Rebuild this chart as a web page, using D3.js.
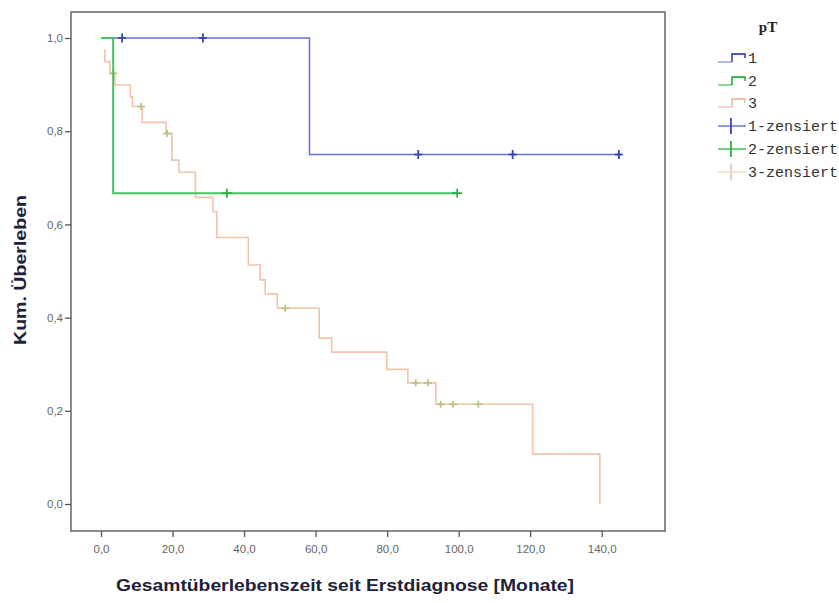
<!DOCTYPE html>
<html><head><meta charset="utf-8">
<script src="https://cdn.jsdelivr.net/npm/d3@7"></script>
<style>body{margin:0;background:#fff}svg{display:block}</style>
</head><body>
<svg id="chart" width="839" height="603"></svg>
<script>
// ---- data ----
const xTicks = [0,20,40,60,80,100,120,140];
const yTicks = [0,0.2,0.4,0.6,0.8,1.0];
const legendLabels = ["1","2","3","1-zensiert","2-zensiert","3-zensiert"];

// pT1
const p1Start = [0, 1.0];
const p1Times = [58.3];
const p1Values = [0.75];
const p1End = 144.8;
const p1Censor = [5.9, 28.5, 88.7, 115.1, 144.8];

// pT2
const p2Start = [0, 1.0];
const p2Times = [3.4];
const p2Values = [0.667];
const p2End = 99.6;
const p2Censor = [35.2, 99.6];

// pT3
const p3Start = [1.1, 0.976];
const p3Times = [1.1, 2.5, 3.9, 8.2, 8.8, 11.5, 18.2, 19.8, 21.8, 26.4, 31.3, 32.4, 41.2, 44.5, 45.9, 49.3, 61.0, 64.5, 79.9, 85.8, 93.6, 120.7, 139.5];
const p3Values = [0.949, 0.924, 0.899, 0.874, 0.853, 0.819, 0.795, 0.738, 0.712, 0.658, 0.627, 0.572, 0.513, 0.481, 0.451, 0.42, 0.356, 0.326, 0.289, 0.26, 0.214, 0.107, 0.0];
const p3End = 139.5;
const p3Censor = [3.5, 11.2, 18.5, 51.5, 88.0, 91.4, 95.0, 98.4, 105.5];

// ---- drawing ----
const svg = d3.select("#chart");
const x = d3.scaleLinear().domain([0,140]).range([101, 601.7]);
const y = d3.scaleLinear().domain([0,1]).range([504, 38]);
const frame = {left:71, right:665, top:12, bottom:531};

// frame
svg.append("rect").attr("x",frame.left).attr("y",frame.top)
  .attr("width",frame.right-frame.left).attr("height",frame.bottom-frame.top)
  .attr("fill","none").attr("stroke","#5a5a5a").attr("stroke-width",1.4);

// y axis
const yAxis = d3.axisLeft(y).tickValues(yTicks).tickSize(6).tickSizeOuter(0)
  .tickFormat(d => d3.format(".1f")(d).replace(".", ","));
const gy = svg.append("g").attr("transform",`translate(${frame.left},0)`).call(yAxis);
gy.select(".domain").remove();
gy.selectAll(".tick line").attr("stroke","#555").attr("stroke-width",1.3);
gy.selectAll(".tick text").attr("fill","#666").attr("font-family","Liberation Sans, Arial, sans-serif")
  .attr("font-size",11.5).attr("x",-8);

// x axis
const xAxis = d3.axisBottom(x).tickValues(xTicks).tickSize(6).tickSizeOuter(0)
  .tickFormat(d => d3.format(".1f")(d).replace(".", ","));
const gx = svg.append("g").attr("transform",`translate(0,${frame.bottom})`).call(xAxis);
gx.select(".domain").remove();
gx.selectAll(".tick line").attr("stroke","#555").attr("stroke-width",1.3);
gx.selectAll(".tick text").attr("fill","#666").attr("font-family","Liberation Sans, Arial, sans-serif")
  .attr("font-size",11.5).attr("y",14);

// axis titles
svg.append("text").attr("x",345).attr("y",591).attr("text-anchor","middle")
  .attr("font-family","Liberation Sans, Arial, sans-serif").attr("font-weight","bold")
  .attr("font-size",16.5).attr("fill","#1e2238")
  .attr("textLength",458).attr("lengthAdjust","spacingAndGlyphs")
  .text("Gesamtüberlebenszeit seit Erstdiagnose [Monate]");
svg.append("text").attr("transform","translate(26,270) rotate(-90)").attr("text-anchor","middle")
  .attr("font-family","Liberation Sans, Arial, sans-serif").attr("font-weight","bold")
  .attr("font-size",16.5).attr("fill","#1e2238")
  .attr("textLength",150).attr("lengthAdjust","spacingAndGlyphs")
  .text("Kum. Überleben");

function stepPoints(start, times, values, end){
  const pts = [start];
  times.forEach((t,i)=>pts.push([t, values[i]]));
  const last = pts[pts.length-1];
  if (end > last[0]) pts.push([end, last[1]]);
  return pts;
}
function valueAt(start, times, values, t){
  let v = start[1];
  times.forEach((tt,i)=>{ if (tt <= t) v = values[i]; });
  return v;
}
const line = d3.line().x(d=>x(d[0])).y(d=>y(d[1])).curve(d3.curveStepAfter);

const series = [
  {start:p3Start, times:p3Times, values:p3Values, end:p3End, censor:p3Censor, color:"#f2c2ab", cColor:"#bcc284", w:1.6, ch:3.5, cw:4},
  {start:p1Start, times:p1Times, values:p1Values, end:p1End, censor:p1Censor, color:"#6470d2", cColor:"#3444b8", w:1.5, ch:4.5, cw:4},
  {start:p2Start, times:p2Times, values:p2Values, end:p2End, censor:p2Censor, color:"#46c462", cColor:"#2aae46", w:2, ch:4.5, cw:5}
];
series.forEach(s=>{
  svg.append("path").datum(stepPoints(s.start,s.times,s.values,s.end))
    .attr("d",line).attr("fill","none").attr("stroke",s.color).attr("stroke-width",s.w);
  const g = svg.append("g");
  s.censor.forEach(t=>{
    const cx = x(t), cy = y(valueAt(s.start,s.times,s.values,t));
    g.append("line").attr("x1",cx).attr("x2",cx).attr("y1",cy-s.ch).attr("y2",cy+s.ch)
      .attr("stroke",s.cColor).attr("stroke-width",1.8);
    g.append("line").attr("x1",cx-s.cw).attr("x2",cx+s.cw).attr("y1",cy).attr("y2",cy)
      .attr("stroke",s.cColor).attr("stroke-width",1.8);
  });
});

// legend
svg.append("text").attr("x",768).attr("y",32).attr("text-anchor","middle")
  .attr("font-family","Liberation Serif, Times New Roman, serif").attr("font-weight","bold")
  .attr("font-size",15).attr("fill","#222").text("pT");
const legRows = [58, 81, 103, 126, 149, 172];
const legColors = [
  {a:"#a8b6ee", b:"#4a58c8"},
  {a:"#7cd68a", b:"#3cbc52"},
  {a:"#f2cdb8", b:"#f0c2aa"},
  {a:"#7482d6", b:"#3a48bc"},
  {a:"#50c064", b:"#2aae46"},
  {a:"#ece0bc", b:"#e8c8b0"}
];
legendLabels.forEach((lab,i)=>{
  const ry = legRows[i];
  const c = legColors[i];
  const g = svg.append("g");
  if (i < 3){
    g.append("path").attr("d",`M718,${ry+4}H732`).attr("stroke",c.a).attr("stroke-width",1.8).attr("fill","none");
    g.append("path").attr("d",`M732,${ry+4}V${ry-4}H745V${ry}`).attr("stroke",c.b).attr("stroke-width",1.8).attr("fill","none");
  } else {
    g.append("line").attr("x1",718).attr("x2",746).attr("y1",ry).attr("y2",ry).attr("stroke",c.a).attr("stroke-width",1.6);
    g.append("line").attr("x1",731).attr("x2",731).attr("y1",ry-8).attr("y2",ry+8).attr("stroke",c.b).attr("stroke-width",1.8);
  }
  g.append("text").attr("x",748).attr("y",ry+5)
    .attr("font-family","Liberation Mono, Courier New, monospace")
    .attr("font-size",15).attr("fill","#333").text(lab);
});
</script>
</body></html>
